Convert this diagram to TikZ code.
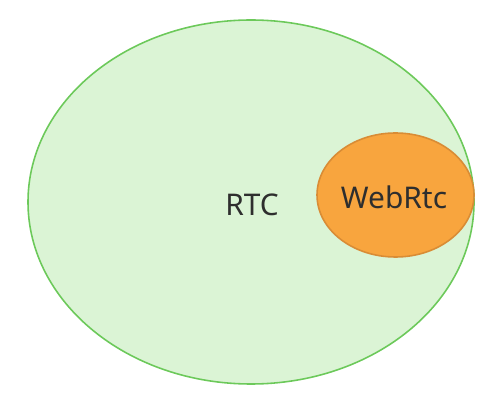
\documentclass[tikz,border=0pt]{standalone}
\usepackage{fontspec}
\setmainfont{Noto Sans}
\usetikzlibrary{shapes.geometric}

\definecolor{rtcfill}{HTML}{DBF4D5}
\definecolor{rtcline}{HTML}{6CC95A}
\definecolor{webfill}{HTML}{F8A53E}
\definecolor{webline}{HTML}{D98C35}
\definecolor{labeltext}{HTML}{2E2E2E}

\tikzset{
    set/.style={ellipse, draw, line width=0.9pt, inner sep=0pt},
    setlabel/.style={text=labeltext, font=\fontsize{17}{20}\selectfont}
}

\begin{document}
\begin{tikzpicture}
    \useasboundingbox (0, 0) rectangle (10, 8);

    \node[set, fill=rtcfill, draw=rtcline, minimum width=8.92cm, minimum height=7.28cm] (rtc) at (5.02, 3.96) {};
    \node[set, fill=webfill, draw=webline, minimum width=3.14cm, minimum height=2.48cm] (webrtc) at (7.91, 4.1) {};

    \node[setlabel] (rtclabel) at (5.04, 3.9) {RTC};
    \node[setlabel] (webrtclabel) at (7.88, 4.06) {WebRtc};
\end{tikzpicture}
\end{document}
